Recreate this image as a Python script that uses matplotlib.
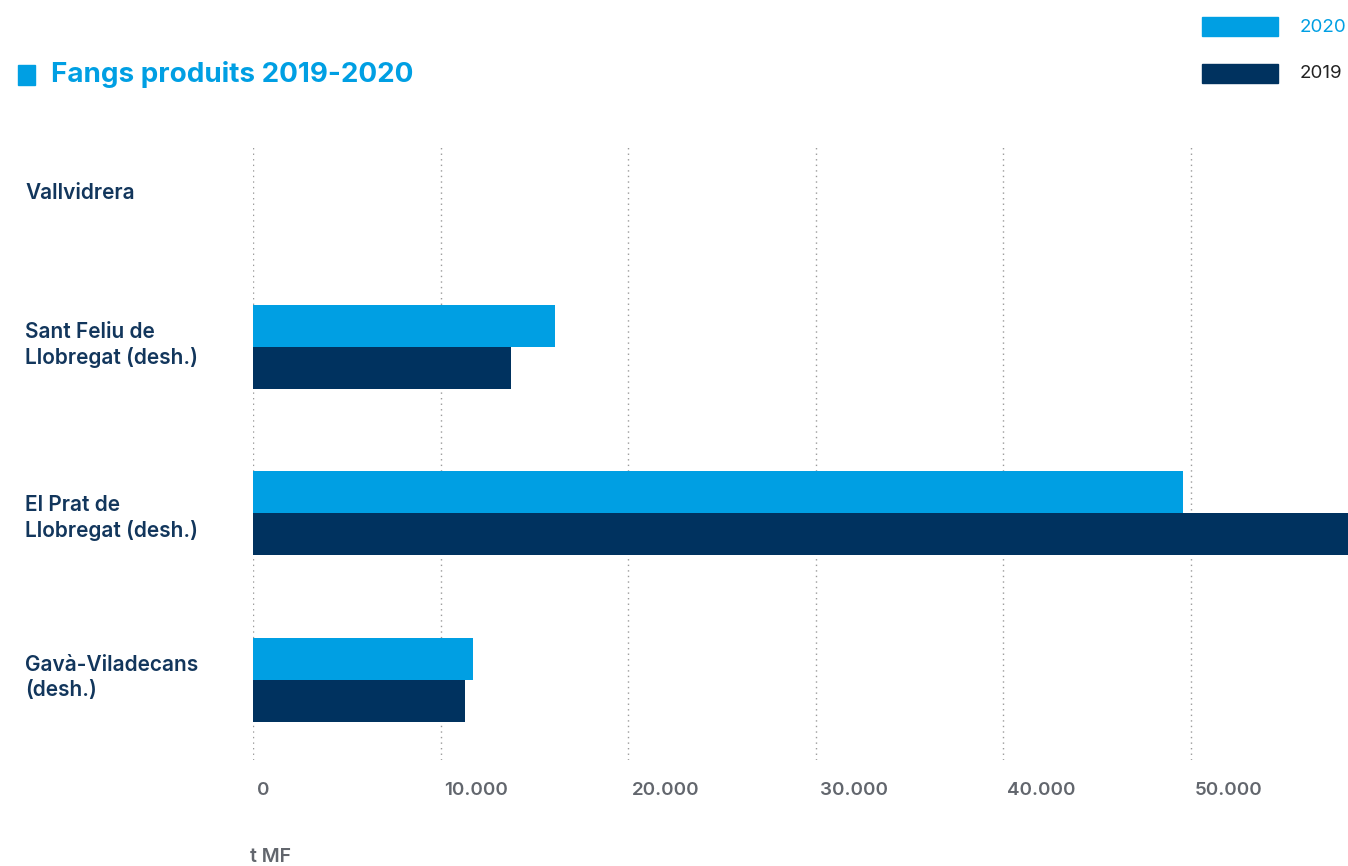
import matplotlib
matplotlib.use("Agg")
import matplotlib.pyplot as plt
import matplotlib.patches as patches
import matplotlib.transforms as mtransforms
from matplotlib.ticker import FuncFormatter
import numpy as np

# data
categories = ["Vallvidrera", "Sant Feliu de\nLlobregat (desh.)", "El Prat de\nLlobregat (desh.)", "Gavà-Viladecans\n(desh.)"]
values_2020 = [0, 16100, 49570, 11730]
values_2019 = [0, 13750, 59000, 11300]
xticks = [0, 10000, 20000, 30000, 40000, 50000]

light = "#009fe3"
navy = "#00325f"
labelcol = "#12365c"
tickcol = "#62666d"
FONT = "Inter"

W, H = 1348, 866
fig = plt.figure(figsize=(W / 100, H / 100), dpi=100)
ax = fig.add_axes([253 / W, (H - 760) / H, 1 - 253 / W, (760 - 145) / H])

y = np.arange(len(categories))
bh = 0.252
ax.barh(y - bh / 2, values_2020, height=bh, color=light, zorder=3)
ax.barh(y + bh / 2, values_2019, height=bh, color=navy, zorder=3)

ax.set_ylim(len(categories) - 1 + 0.48, -0.21)
ax.set_xlim(0, 58370)

for s in ax.spines.values():
    s.set_visible(False)

ax.set_xticks(xticks)
ax.xaxis.set_major_formatter(FuncFormatter(lambda v, p: f"{int(v):,}".replace(",", ".")))
ax.grid(axis="x", color="#9a9a9a", linestyle=(0, (1, 3)), linewidth=1, zorder=0)
ax.tick_params(axis="x", length=0, pad=16, labelsize=13.5, labelcolor=tickcol)
for t in ax.get_xticklabels():
    t.set_ha("left")
    t.set_fontfamily(FONT)
    t.set_fontweight("semibold")
    t.set_transform(t.get_transform() + mtransforms.ScaledTranslation(4 / 100, 0, fig.dpi_scale_trans))

ax.set_yticks(y)
ax.set_yticklabels(categories)
ax.tick_params(axis="y", length=0, pad=164, labelsize=15, labelcolor=labelcol)
# small vertical nudges (pixels) so the labels sit where the reference has them
nudges = [-11, 6, 0, 7]
for t, dy in zip(ax.get_yticklabels(), nudges):
    t.set_ha("left")
    t.set_fontfamily(FONT)
    t.set_fontweight("semibold")
    t.set_linespacing(1.3)
    t.set_transform(t.get_transform() + mtransforms.ScaledTranslation(0, dy / 100, fig.dpi_scale_trans))

# title with square marker
fig.patches.append(patches.Rectangle((18 / W, (H - 85) / H), 17 / W, 20 / H,
                                     transform=fig.transFigure, color=light))
fig.text(51 / W, (H - 75) / H, "Fangs produits 2019-2020", color=light, fontsize=20,
         fontweight="bold", family=FONT, va="center", ha="left")

# legend
fig.patches.append(patches.Rectangle((1202 / W, (H - 36) / H), 76 / W, 19 / H,
                                     transform=fig.transFigure, color=light))
fig.patches.append(patches.Rectangle((1202 / W, (H - 83) / H), 76 / W, 19 / H,
                                     transform=fig.transFigure, color=navy))
fig.text(1300 / W, (H - 27) / H, "2020", color=light, fontsize=13.5, family=FONT,
         va="center", ha="left")
fig.text(1300 / W, (H - 73) / H, "2019", color="#222222", fontsize=13.5, family=FONT,
         va="center", ha="left")

fig.text(250 / W, (H - 857) / H, "t MF", color=tickcol, fontsize=14, family=FONT,
         fontweight="semibold", va="center", ha="left")

fig.savefig("out.png", dpi=100)
